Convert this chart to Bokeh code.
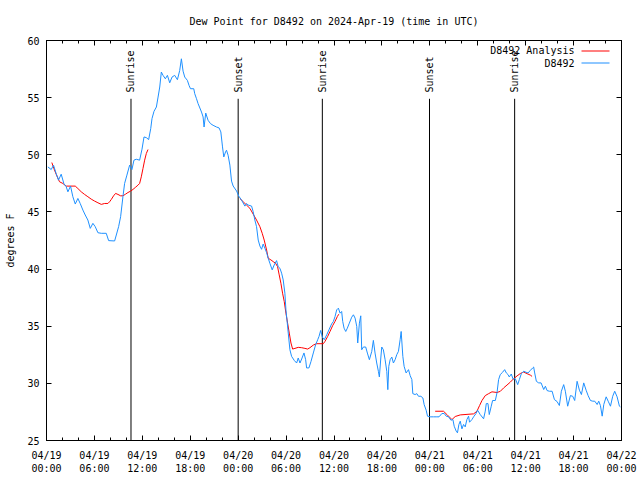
import math
from bokeh.plotting import figure
from bokeh.models import Range1d, LinearAxis, FixedTicker, Label, BoxAnnotation, ColumnDataSource
from bokeh.core.properties import value
from bokeh.embed import file_html
from bokeh.resources import INLINE

FONT = "DejaVu Sans Mono"

title_text = "Dew Point for D8492 on 2024-Apr-19 (time in UTC)"
y_label = "degrees F"

# x axis: hours since 2024-04-19 00:00 UTC
tick_hours = [0, 6, 12, 18, 24, 30, 36, 42, 48, 54, 60, 66, 72]
tick_labels = ["04/19\n00:00", "04/19\n06:00", "04/19\n12:00", "04/19\n18:00",
               "04/20\n00:00", "04/20\n06:00", "04/20\n12:00", "04/20\n18:00",
               "04/21\n00:00", "04/21\n06:00", "04/21\n12:00", "04/21\n18:00",
               "04/22\n00:00"]
minor_hours = list(range(0, 73, 2))
y_ticks = [25, 30, 35, 40, 45, 50, 55, 60]

# observed dew point (D8492)
obs_hours = [0.17, 0.59, 0.88, 1.21, 1.50, 1.84, 2.17, 2.47, 2.68, 3.01, 3.30, 3.60, 3.93, 4.22, 4.56, 4.85,
             5.18, 5.48, 5.81, 6.10, 6.44, 6.86, 7.48, 7.78, 8.53, 8.74, 9.03, 9.28, 9.57, 9.78, 10.07, 10.41,
             10.70, 10.95, 11.24, 11.66, 11.96, 12.21, 12.50, 12.79, 13.05, 13.21, 13.46, 13.76, 13.97, 14.18,
             14.38, 14.59, 14.88, 15.14, 15.43, 15.72, 16.05, 16.39, 16.68, 16.89, 17.10, 17.31, 17.64, 17.85,
             18.03, 18.44, 18.56, 18.78, 18.98, 19.41, 19.61, 19.73, 19.94, 20.23, 20.53, 20.86, 21.29, 21.61,
             21.83, 22.04, 22.20, 22.42, 22.54, 22.74, 22.96, 23.17, 23.37, 23.80, 24.08, 24.42, 24.84, 25.05,
             25.25, 25.68, 25.88, 26.09, 26.30, 26.51, 26.72, 26.93, 27.13, 27.35, 27.56, 27.76, 27.97, 28.26,
             28.51, 28.81, 29.01, 29.23, 29.44, 29.64, 29.85, 29.98, 30.11, 30.27, 30.48, 30.69, 31.02, 31.32,
             31.52, 31.74, 31.95, 32.24, 32.45, 32.57, 32.86, 33.12, 33.41, 33.70, 33.96, 34.12, 34.33, 34.54,
             34.78, 35.09, 35.37, 35.71, 35.92, 36.13, 36.34, 36.55, 36.76, 36.96, 37.09, 37.26, 37.47, 37.67,
             37.92, 38.22, 38.43, 38.64, 38.85, 38.97, 39.18, 39.35, 39.47, 39.68, 39.97, 40.18, 40.43, 40.73,
             40.93, 41.14, 41.35, 41.56, 41.68, 41.86, 41.98, 42.18, 42.40, 42.61, 42.74, 42.86, 43.03, 43.24,
             43.44, 43.65, 43.86, 44.07, 44.28, 44.41, 44.62, 44.78, 45.03, 45.33, 45.54, 45.75, 45.87, 46.16,
             46.37, 46.58, 46.88, 47.13, 47.29, 47.54, 47.71, 48.04, 48.46, 48.88, 49.15, 49.51, 49.80, 50.05,
             50.34, 50.64, 50.89, 51.05, 51.30, 51.46, 51.64, 51.81, 52.02, 52.22, 52.43, 52.64, 52.85, 52.97,
             53.27, 53.48, 53.78, 53.98, 54.31, 54.73, 54.94, 55.07, 55.28, 55.44, 55.69, 55.86, 56.20, 56.41,
             56.61, 56.82, 57.11, 57.37, 57.58, 57.79, 57.95, 58.20, 58.41, 58.71, 59.00, 59.21, 59.46, 59.75,
             60.05, 60.30, 60.59, 60.88, 61.00, 61.13, 61.34, 61.63, 61.93, 62.26, 62.47, 62.68, 62.97, 63.31,
             63.60, 63.93, 64.22, 64.47, 64.76, 64.97, 65.26, 65.60, 65.89, 66.14, 66.44, 66.73, 66.98, 67.27,
             67.57, 67.82, 68.11, 68.40, 68.65, 68.95, 69.15, 69.36, 69.58, 69.78, 70.08, 70.33, 70.62, 70.90,
             71.15, 71.45, 71.74, 71.87]
obs_dewpt = [48.94, 48.71, 49.09, 48.36, 47.78, 48.30, 47.49, 47.20, 46.76, 47.26, 46.33, 45.69, 46.18, 45.74, 45.16, 44.73,
             44.29, 43.56, 44.00, 43.71, 43.18, 43.13, 43.13, 42.49, 42.46, 42.98, 43.71, 44.58, 46.33, 47.49, 48.22, 49.09,
             48.71, 49.53, 49.61, 49.53, 50.49, 51.56, 51.50, 51.33, 52.29, 53.16, 53.80, 54.18, 55.05, 55.93,
             57.24, 56.95, 56.65, 56.95, 56.30, 56.80, 56.95, 56.57, 57.38, 58.40, 57.32, 56.80, 56.51, 56.07,
             55.78, 55.78, 55.35, 54.91, 54.48, 53.74, 53.31, 52.43, 53.65, 53.02, 52.73, 52.58, 52.43, 52.35,
             52.00, 50.69, 49.81, 50.25, 50.40, 49.96, 49.10, 47.70, 47.27, 46.83, 46.38, 46.04, 45.51, 45.74,
             45.60, 45.51, 45.02, 44.29, 43.71, 42.54, 42.02, 41.73, 42.19, 41.82, 41.44, 40.95, 40.51, 39.93,
             40.36, 40.74, 40.21, 40.07, 39.64, 39.05, 37.89, 36.43, 35.56, 34.40, 32.94, 32.36, 32.01, 31.78,
             32.22, 31.78, 32.13, 32.66, 32.07, 31.35, 31.35, 31.92, 32.66, 33.38, 33.82, 34.10, 34.63, 34.05,
             33.82, 34.25, 34.69, 35.21, 35.41, 35.85, 36.43, 36.58, 36.14, 36.29, 35.42, 34.83, 34.54, 34.83,
             35.27, 35.79, 36.00, 35.71, 34.98, 33.53, 35.27, 35.91, 32.94, 33.18, 33.18, 32.65, 32.07, 32.80,
             33.76, 32.65, 31.78, 31.05, 30.56, 32.22, 33.18, 32.94, 32.07, 31.05, 29.45, 31.49, 32.07, 32.30,
             31.78, 32.07, 32.51, 32.80, 33.82, 34.54, 32.36, 31.49, 30.91, 31.20, 30.67, 30.33, 29.10, 29.02,
             29.10, 28.87, 28.87, 28.72, 28.14, 27.65, 27.13, 27.07, 27.07, 27.07, 27.07, 27.36, 27.36, 27.13,
             27.07, 26.78, 26.83, 26.25, 25.82, 25.67, 26.40, 26.69, 26.02, 26.40, 26.19, 26.83, 27.13, 26.60,
             26.83, 27.07, 27.36, 27.65, 27.27, 26.90, 27.57, 28.23, 28.23, 27.27, 28.00, 28.50, 28.50, 29.17,
             30.33, 30.77, 30.97, 31.20, 30.91, 30.77, 30.56, 30.82, 30.39, 30.39, 29.89, 30.33, 30.85, 31.06,
             30.97, 30.91, 31.14, 31.35, 31.43, 30.91, 30.18, 30.04, 30.04, 29.46, 29.75, 29.37, 29.31, 29.31,
             28.58, 28.41, 28.06, 29.31, 29.89, 29.31, 28.00, 28.93, 28.87, 28.50, 30.18, 29.40, 29.02, 30.04,
             29.40, 28.93, 28.50, 28.44, 28.44, 28.15, 28.44, 28.06, 27.13, 28.15, 28.82, 28.44, 28.00, 28.87,
             29.31, 28.82, 28.00, 27.94]

NaN = float("nan")
# analysis dew point (D8492 Analysis), gaps where no analysis is available
ana_hours = [0.67, 0.92, 1.21, 1.63, 2.05, 2.47, 3.60, 3.93, 4.35, 4.77, 5.18, 5.60, 6.02, 6.44, 6.86, 7.28,
             7.69, 7.90, 8.11, 8.40, 8.65, 8.95, 9.28, 9.57, 9.91, 10.20, 10.53, 10.83, 11.12, 11.45, 11.66,
             11.87, 12.08, 12.29, 12.50, 12.71, 18.0,
             24.21, 24.63, 25.05, 25.47, 25.88, 26.30, 26.72, 27.01, 27.26, 27.56, 27.76, 28.10, 28.39, 28.68,
             28.93, 29.14, 29.35, 29.56, 29.77, 29.98, 30.19, 30.40, 30.61, 30.82, 31.11, 31.52, 31.95, 32.36,
             32.70, 32.99, 33.41, 33.83, 34.25, 34.66, 34.87, 35.21, 35.50, 35.83, 36.13, 36.42, 36.60, 42.0,
             48.67, 49.71, 50.14, 50.77, 51.18, 51.81, 53.48, 53.90, 54.23, 54.53, 54.94, 55.36, 55.78, 56.41,
             56.82, 57.24, 57.66, 58.08, 58.49, 58.92, 59.33, 59.75, 60.17, 60.59, 60.80]
ana_dewpt = [49.32, 48.80, 48.30, 47.64, 47.49, 47.26, 47.26, 47.05, 46.76, 46.53, 46.33, 46.12, 45.95, 45.80, 45.66, 45.74,
             45.74, 45.89, 46.09, 46.41, 46.62, 46.53, 46.41, 46.41, 46.56, 46.70, 46.82, 46.97, 47.14, 47.34, 47.49,
             48.07, 48.80, 49.53, 50.11, 50.46, NaN,
             46.18, 45.89, 45.60, 45.31, 44.81, 44.29, 43.71, 43.13, 42.54, 41.67, 40.95, 40.80, 40.65, 40.51,
             40.22, 39.49, 38.76, 37.89, 37.16, 36.14, 35.27, 34.40, 33.53, 33.00, 33.06, 33.15, 33.12, 33.06,
             33.00, 33.12, 33.35, 33.47, 33.47, 33.47, 33.67, 34.11, 34.54, 35.05, 35.42, 35.85, 36.05, NaN,
             27.56, 27.56, 27.27, 26.83, 27.10, 27.24, 27.33, 27.56, 28.06, 28.50, 28.93, 29.10, 29.26, 29.20,
             29.30, 29.60, 29.85, 30.11, 30.40, 30.65, 30.86, 30.99, 30.85, 30.72, 30.61]

# sunrise / sunset times (hours since 04/19 00:00 UTC)
event_hours = [10.58, 24.00, 34.54, 47.96, 58.62]
event_names = ["Sunrise", "Sunset", "Sunrise", "Sunset", "Sunrise"]

series_names = ["D8492 Analysis", "D8492"]
series_colors = ["#ff0000", "#1e90ff"]

p = figure(width=640, height=480, x_range=Range1d(0, 72), y_range=Range1d(25, 60),
           output_backend="svg", toolbar_location=None,
           min_border_left=46, min_border_right=19, min_border_top=40, min_border_bottom=40)
p.background_fill_color = "white"
p.border_fill_color = "white"
p.outline_line_color = "black"
p.outline_line_width = 1
p.xgrid.visible = False
p.ygrid.visible = False

p.title.text = title_text
p.title.align = "center"
p.title.text_font = FONT
p.title.text_font_size = "10px"
p.title.text_font_style = "normal"
p.title.text_color = "black"
p.title.standoff = 27

def style_axis(ax, show_labels):
    ax.axis_line_color = "black"
    ax.major_tick_in = 5
    ax.major_tick_out = 0
    ax.minor_tick_in = 3
    ax.minor_tick_out = 0
    ax.major_tick_line_color = "black"
    ax.minor_tick_line_color = "black"
    ax.major_label_text_font = FONT
    if show_labels:
        ax.major_label_text_font_size = "10px"
        ax.major_label_text_color = "black"
    else:
        ax.major_label_text_font_size = "1px"
        ax.major_label_text_color = None
        ax.major_label_standoff = 0

xax = p.xaxis[0]
xax.ticker = FixedTicker(ticks=tick_hours, minor_ticks=minor_hours)
xax.major_label_overrides = {h: lab for h, lab in zip(tick_hours, tick_labels)}
style_axis(xax, True)
xax.major_label_standoff = 9

yax = p.yaxis[0]
yax.ticker = FixedTicker(ticks=y_ticks, minor_ticks=[])
style_axis(yax, True)
yax.major_label_standoff = 7
yax.axis_label = y_label
yax.axis_label_text_font = FONT
yax.axis_label_text_font_size = "10px"
yax.axis_label_text_font_style = "normal"
yax.axis_label_text_color = "black"
yax.axis_label_standoff = 8

top_ax = LinearAxis(ticker=FixedTicker(ticks=tick_hours, minor_ticks=minor_hours))
style_axis(top_ax, False)
p.add_layout(top_ax, "above")
right_ax = LinearAxis(ticker=FixedTicker(ticks=y_ticks, minor_ticks=[]))
style_axis(right_ax, False)
p.add_layout(right_ax, "right")

# sunrise / sunset markers
ev = ColumnDataSource(dict(x=event_hours, name=event_names,
                           y0=[25] * len(event_hours), y1=[54.9] * len(event_hours),
                           ty=[55.45] * len(event_hours)))
p.segment(x0="x", y0="y0", x1="x", y1="y1", source=ev, line_color="black", line_width=1)
p.text(x="x", y="ty", text="name", source=ev, angle=math.pi / 2, text_align="left",
       text_baseline="middle", text_font=value(FONT), text_font_size="10px", text_color="black")

# data lines
p.line(ana_hours, ana_dewpt, line_color=series_colors[0], line_width=1)
p.line(obs_hours, obs_dewpt, line_color=series_colors[1], line_width=1)

# legend (gnuplot style: label, then line sample), positions relative to the plot frame
for i, (nm, col) in enumerate(zip(series_names, series_colors)):
    ytxt = 390 - 12.5 * i
    ybox = 390 - 12 * i
    p.add_layout(Label(x=528, y=ytxt, x_units="screen", y_units="screen", text=nm,
                       text_align="right", text_baseline="middle", text_font=FONT,
                       text_font_size="10px", text_color="black"))
    p.add_layout(BoxAnnotation(left=535, right=563, top=ybox, bottom=ybox - 1,
                               left_units="screen", right_units="screen",
                               top_units="screen", bottom_units="screen",
                               fill_color=col, fill_alpha=1.0, line_color=None))

open("out.html", "w").write(file_html(p, INLINE))
